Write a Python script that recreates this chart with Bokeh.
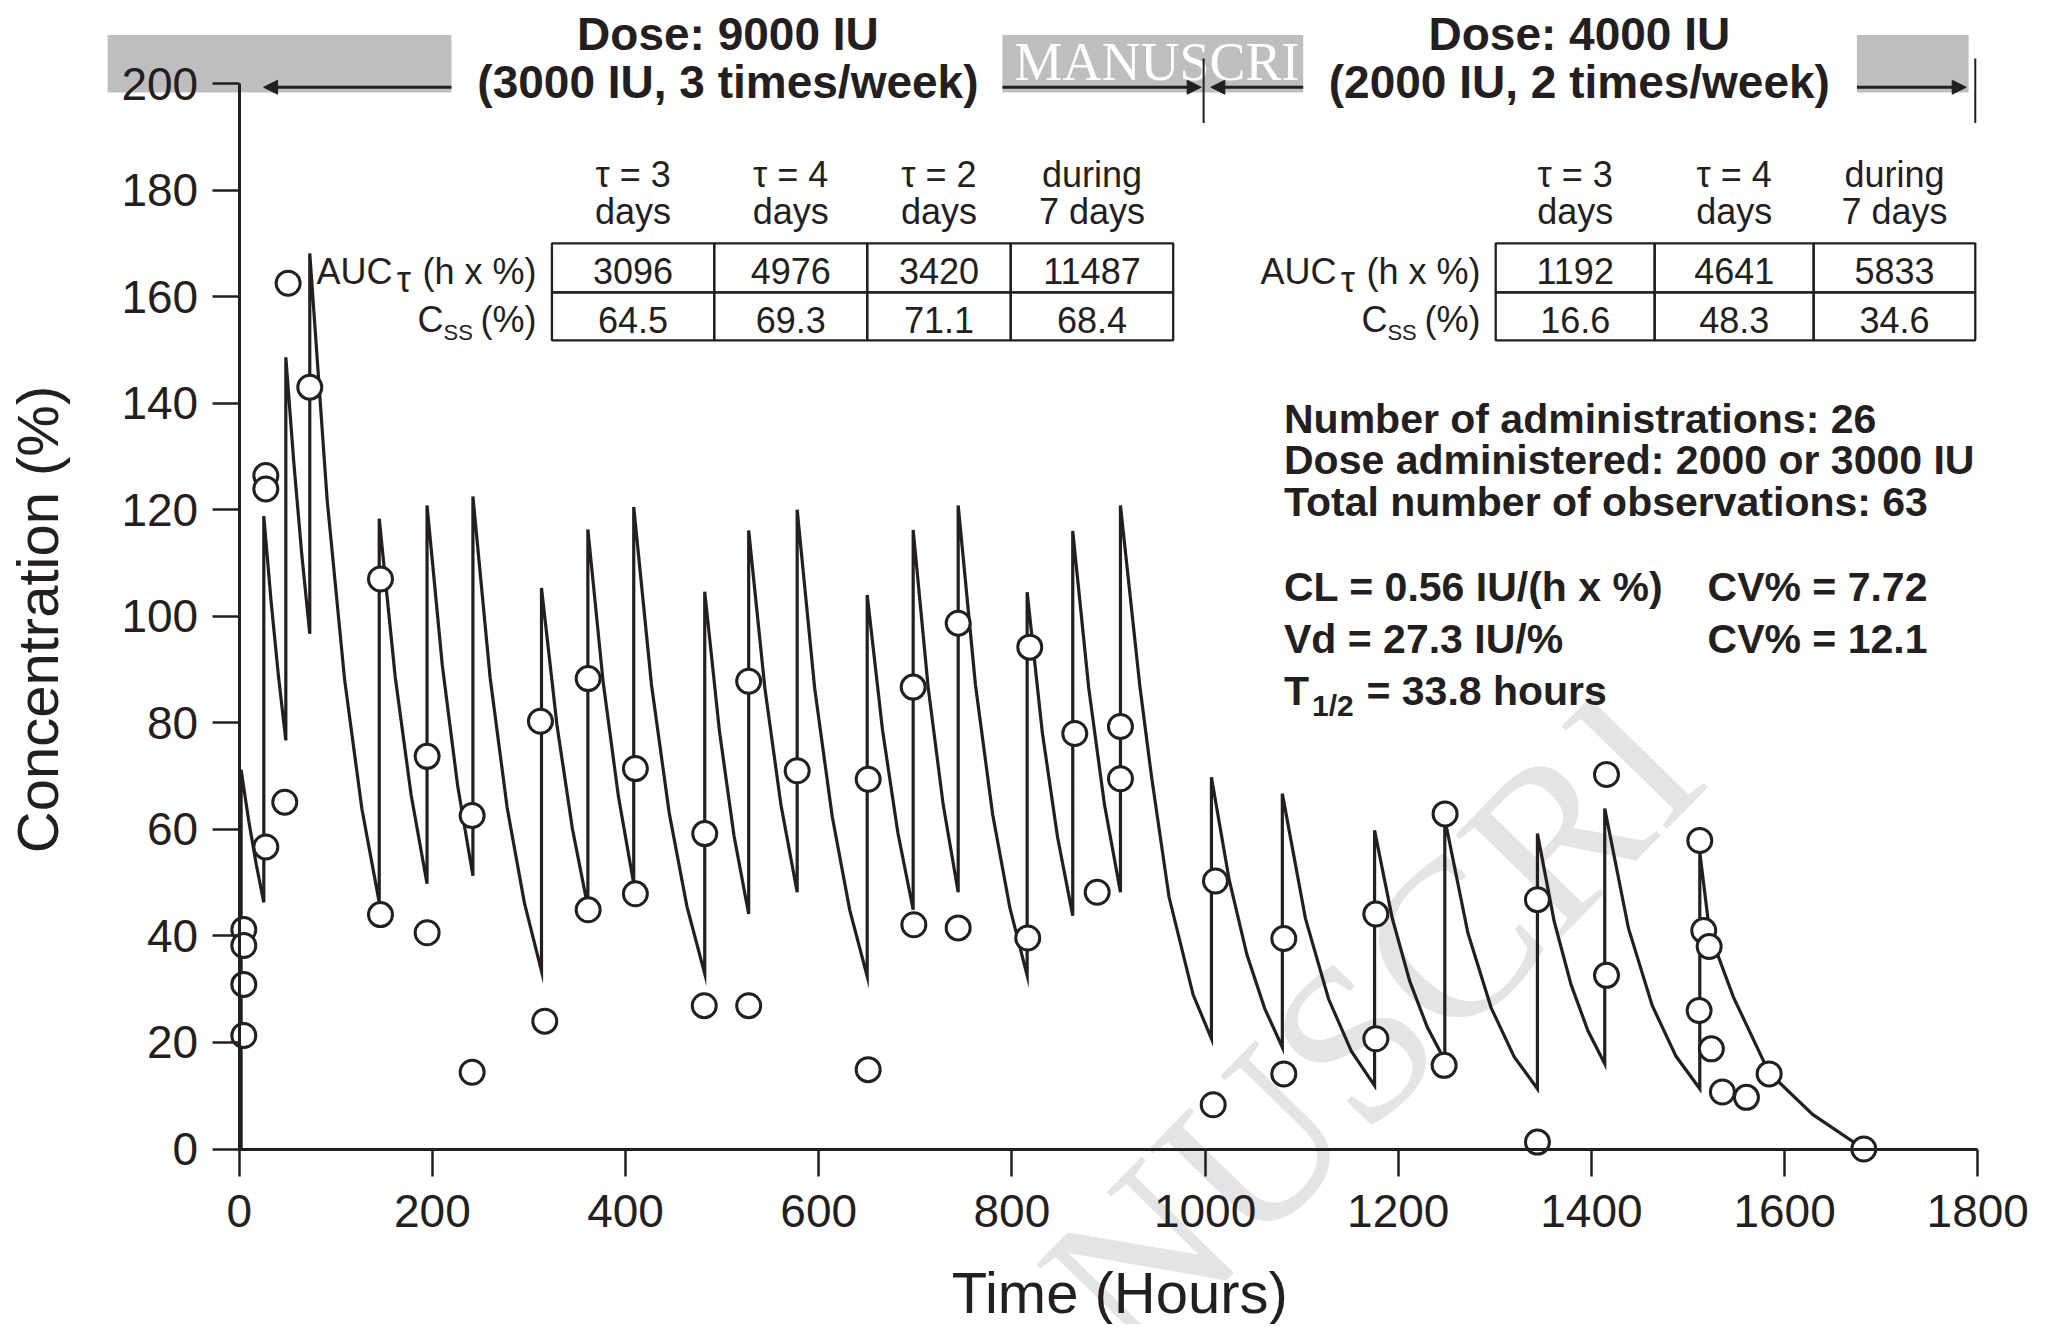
import math
from bokeh.plotting import figure
from bokeh.models import Range1d, Label, Arrow, NormalHead, BoxAnnotation, FixedTicker
from bokeh.embed import file_html
from bokeh.resources import INLINE

# ---------------- data ----------------
# dosing times (h), concentration just before each dose and right after it (%)
dose_t = [2, 25.5, 48.3, 73.1, 145, 194.5, 242, 313, 361, 408.5, 482, 527.5, 577.7,
          650.2, 697.8, 744.4, 815.8, 863, 912.4, 1006.6, 1080, 1175.5, 1248.2,
          1344.1, 1413.8, 1512.2]
trough_c = [0, 46.3, 76.7, 96.7, 46.3, 49.8, 51.3, 33.4, 45.4, 49.8, 32.9, 44.1, 48.2,
            32.4, 44.9, 48.2, 32.6, 43.8, 48.2, 20.7, 19.1, 11.9, 16.6, 11.3, 16.0, 11.3]
peak_c = [71.2, 118.8, 148.6, 168.1, 118.3, 120.8, 122.5, 105.3, 116.3, 120.5, 104.6,
          116.1, 120.0, 104.0, 116.2, 120.8, 104.5, 116.0, 120.8, 69.8, 66.7, 59.8, 62.0,
          59.2, 63.9, 55.7]
# points on each decay curve after a dose (last entry = final wash-out)
decay_t = [[9.8, 17.7], [33.1, 40.7], [56.6, 64.8], [91.1, 109.1, 127.0],
           [161.5, 178.0], [210.3, 226.2], [259.8, 277.5, 295.3], [329.0, 345.0],
           [376.8, 392.7], [426.9, 445.3, 463.6], [497.2, 512.3], [544.2, 560.9],
           [595.8, 614.0, 632.1], [666.1, 681.9], [713.3, 728.9], [762.3, 780.1, 798.0],
           [831.5, 847.3], [879.5, 895.9], [932.4, 944.5, 962.7, 987.6],
           [1025.0, 1043.3, 1061.7], [1103.9, 1127.8, 1151.6], [1193.7, 1211.9, 1230.0],
           [1272.2, 1296.2, 1320.1], [1361.5, 1379.0, 1396.4], [1438.4, 1463.0, 1487.6],
           [1522.5, 1547.0, 1584.0, 1629.0, 1682.0]]
decay_c = [[61.7, 53.4], [102.7, 88.7], [128.8, 111.6], [121.8, 88.2, 63.9],
           [88.7, 66.5], [90.8, 68.2], [88.5, 64.0, 46.2], [79.6, 60.1],
           [87.7, 66.1], [87.1, 63.0, 45.5], [78.5, 58.8], [86.6, 64.6],
           [86.5, 62.4, 44.9], [78.6, 59.4], [86.7, 64.6], [87.1, 62.8, 45.2],
           [78.2, 58.5], [86.6, 64.6], [87.0, 70.0, 47.3, 29.0],
           [50.5, 36.5, 26.4], [43.3, 28.2, 18.3], [43.4, 31.5, 22.9],
           [40.5, 26.5, 17.3], [42.7, 30.8, 22.2], [41.4, 26.9, 17.4],
           [40.5, 28.5, 14.3, 6.5, 0.0]]
# observations
obs_t = [4.8, 4.8, 4.8, 4.8, 27.6, 27.6, 27.6, 47.2, 50.7, 73.1,
         146.3, 146.3, 194.6, 194.6, 241.2, 241.2, 311.9, 316.4, 361.3, 361.3,
         410.2, 410.2, 482.0, 481.5, 527.5, 527.5, 577.7, 651.2, 651.2, 697.8,
         698.5, 744.4, 744.4, 818.5, 816.4, 865.1, 888.3, 912.4, 912.4, 1010.8,
         1008.4, 1081.5, 1081.5, 1176.8, 1176.8, 1248.5, 1247.5, 1344.1, 1344.1, 1415.6,
         1415.6, 1512.2, 1516.3, 1521.9, 1511.5, 1524.2, 1535.6, 1560.5, 1584.0, 1682.0]
obs_c = [41.2, 38.2, 30.9, 21.3, 56.7, 126.4, 123.9, 65.1, 162.5, 143.0,
         107.0, 44.0, 73.7, 40.6, 62.6, 14.4, 80.3, 24.0, 88.3, 44.9,
         71.4, 47.9, 59.2, 26.9, 87.8, 26.9, 71.0, 69.4, 14.9, 86.7,
         42.1, 98.7, 41.5, 94.2, 39.6, 78.0, 48.2, 79.3, 69.5, 50.3,
         8.3, 39.5, 14.1, 44.1, 20.7, 62.9, 15.7, 46.8, 1.3, 70.3,
         32.6, 57.9, 41.0, 38.0, 26.0, 18.8, 10.7, 9.7, 14.1, 0.0]

x_ticks = [0, 200, 400, 600, 800, 1000, 1200, 1400, 1600, 1800]
y_ticks = [0, 20, 40, 60, 80, 100, 120, 140, 160, 180, 200]

tab1_head1 = ["\u03c4 = 3", "\u03c4 = 4", "\u03c4 = 2", "during"]
tab1_head2 = ["days", "days", "days", "7 days"]
tab1_auc = ["3096", "4976", "3420", "11487"]
tab1_css = ["64.5", "69.3", "71.1", "68.4"]
tab2_head1 = ["\u03c4 = 3", "\u03c4 = 4", "during"]
tab2_head2 = ["days", "days", "7 days"]
tab2_auc = ["1192", "4641", "5833"]
tab2_css = ["16.6", "48.3", "34.6"]

stats_lines = ["Number of administrations: 26",
               "Dose administered: 2000 or 3000 IU",
               "Total number of observations: 63"]

# ---------------- layout / style ----------------
BLACK = "#231f20"
FONT = "Liberation Sans"
SERIF = "Liberation Serif"
UX = 1 / 0.9659      # data units per screen px (x)
UY = 1 / 5.3275      # data units per screen px (y)

TAB1_EDGES = [323.8, 491.8, 650.2, 798.8, 967.0]
TAB2_EDGES = [1300.9, 1465.5, 1630.1, 1797.4]
ROW_EDGES = [170.0, 160.8, 151.8]
HEAD1_Y, HEAD2_Y, AUC_Y, CSS_Y = 182.9, 175.9, 164.8, 155.7

p = figure(frame_width=2056, frame_height=1324,
           x_range=Range1d(-247.1, 1881.5), y_range=Range1d(-32.94, 215.58),
           output_backend="svg", toolbar_location=None, min_border=0,
           background_fill_color="white", border_fill_color="white",
           outline_line_color=None)
p.grid.visible = False

for ax, ticks, bnds in ((p.xaxis, x_ticks, (0, 1800)), (p.yaxis, y_ticks, (0, 200))):
    ax.ticker = FixedTicker(ticks=ticks)
    ax.bounds = bnds
    ax.fixed_location = 0
    ax.axis_line_width = 3
    ax.axis_line_color = BLACK
    ax.major_tick_line_width = 2.5
    ax.major_tick_line_color = BLACK
    ax.major_tick_in = 0
    ax.major_tick_out = 27
    ax.minor_tick_line_color = None
    ax.major_label_text_font = FONT
    ax.major_label_text_font_size = "46px"
    ax.major_label_text_color = BLACK
p.xaxis.major_label_standoff = 19
p.yaxis.major_label_standoff = 14


def lab(x, y, text, size, bold=False, align="left", color=BLACK, font=FONT,
        angle=0.0, level="annotation"):
    p.add_layout(Label(x=x, y=y, text=text, text_font=font,
                       text_font_size=f"{size}px",
                       text_font_style="bold" if bold else "normal",
                       text_align=align, text_baseline="middle",
                       text_color=color, angle=angle, level=level))


# faint diagonal watermark
lab(873.4, -31.9, "NUSCRI", 225, font=SERIF, color="#e4e4e4", angle=0.7976,
    level="underlay")

# grey header boxes of the manuscript stamp
for l, r in ((-136.2, 219.8), (790.2, 1101.6), (1674.9, 1790.5)):
    p.add_layout(BoxAnnotation(left=l, right=r, bottom=198.3, top=209.1,
                               fill_color="#bebebe", fill_alpha=1.0,
                               line_color=None, level="underlay"))
lab(802.6, 204.0, "MANUSCRI", 54, font=SERIF, color="white", level="underlay")

# model curve
line_t, line_c = [], []
for i, t in enumerate(dose_t):
    line_t += [t, t]
    line_c += [trough_c[i], peak_c[i]]
    line_t += decay_t[i]
    line_c += decay_c[i]
p.line(line_t, line_c, line_color=BLACK, line_width=3.2, line_join="miter")

# observations
p.scatter(obs_t, obs_c, marker="circle", size=24, fill_color="white",
          line_color=BLACK, line_width=3)

# tables
for edges in (TAB1_EDGES, TAB2_EDGES):
    lefts, rights, bottoms, tops = [], [], [], []
    for r in range(len(ROW_EDGES) - 1):
        for c in range(len(edges) - 1):
            lefts.append(edges[c]); rights.append(edges[c + 1])
            tops.append(ROW_EDGES[r]); bottoms.append(ROW_EDGES[r + 1])
    p.quad(left=lefts, right=rights, bottom=bottoms, top=tops, fill_color=None,
           line_color=BLACK, line_width=2.3)

for edges, h1, h2, auc, css in ((TAB1_EDGES, tab1_head1, tab1_head2, tab1_auc, tab1_css),
                                (TAB2_EDGES, tab2_head1, tab2_head2, tab2_auc, tab2_css)):
    for c in range(len(h1)):
        xc = (edges[c] + edges[c + 1]) / 2
        lab(xc, HEAD1_Y, h1[c], 36, align="center")
        lab(xc, HEAD2_Y, h2[c], 36, align="center")
        lab(xc, AUC_Y, auc[c], 36, align="center")
        lab(xc, CSS_Y, css[c], 36, align="center")

for X in (307.8, 1285.1):
    lab(X, AUC_Y, "(h x %)", 36, align="right")
    lab(X - 132.5 * UX, AUC_Y - 1.6, "\u03c4", 36, align="center")
    lab(X - 144 * UX, AUC_Y, "AUC", 36, align="right")
    lab(X, CSS_Y, "(%)", 36, align="right")
    lab(X - 93 * UX, CSS_Y - 2.5, "SS", 22, align="left")
    lab(X - 93 * UX, CSS_Y, "C", 36, align="right")

# dose headings
for xc, l1, l2 in ((506.0, "Dose: 9000 IU", "(3000 IU, 3 times/week)"),
                   (1387.5, "Dose: 4000 IU", "(2000 IU, 2 times/week)")):
    lab(xc, 209.3, l1, 46, bold=True, align="center")
    lab(xc, 200.2, l2, 46, bold=True, align="center")

# arrows and phase limits
for xs, xe in ((219.8, 25.3), (790.2, 996.0), (1101.6, 1006.0), (1674.9, 1788.0)):
    p.add_layout(Arrow(end=NormalHead(size=14, fill_color=BLACK, line_color=BLACK,
                                      line_width=1),
                       x_start=xs, y_start=199.3, x_end=xe, y_end=199.3,
                       line_color=BLACK, line_width=3))
p.segment(x0=[998.5, 1797.4], y0=[192.6, 192.6], x1=[998.5, 1797.4], y1=[204.7, 204.7],
          line_color=BLACK, line_width=2)

# statistics block
for txt, yc in zip(stats_lines, (137.0, 129.4, 121.4)):
    lab(1081.7, yc, txt, 41, bold=True)
lab(1081.7, 105.4, "CL = 0.56 IU/(h x %)", 41, bold=True)
lab(1520.2, 105.4, "CV% = 7.72", 41, bold=True)
lab(1081.7, 95.7, "Vd = 27.3 IU/%", 41, bold=True)
lab(1520.2, 95.7, "CV% = 12.1", 41, bold=True)
lab(1081.7, 86.0, "T", 41, bold=True)
lab(1110.8, 83.3, "1/2", 30, bold=True)
lab(1167.1, 86.0, "= 33.8 hours", 41, bold=True)

# axis titles
lab(911.7, -27.0, "Time (Hours)", 58, align="center")
lab(-209.3, 99.4, "Concentration (%)", 58, align="center", angle=math.pi / 2)

open("out.html", "w").write(file_html(p, INLINE))
